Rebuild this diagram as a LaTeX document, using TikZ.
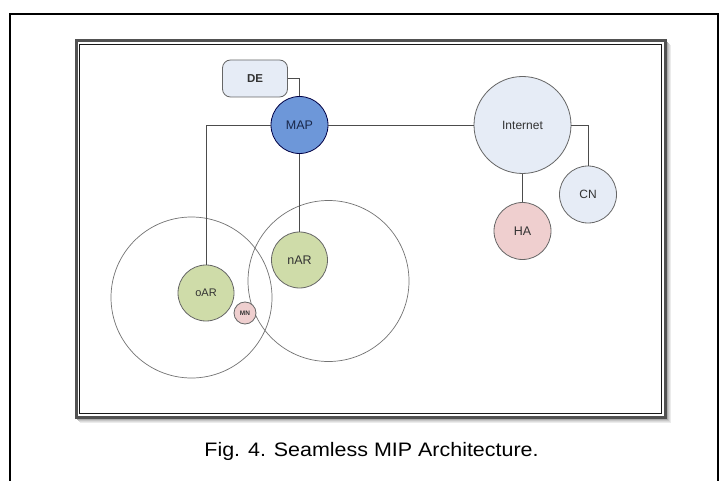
\documentclass[tikz,border=0pt]{standalone}
\usepackage{fontspec}
\setmainfont{Liberation Sans}
\begin{document}
\begin{tikzpicture}[x=1pt,y=-1pt,
  every node/.style={font=\fontsize{12}{14}\selectfont, text=black!80},
  circ/.style={circle, draw=black!60, line width=0.8pt, inner sep=0pt},
  cloud/.style={circ, fill=lightblue},
  router/.style={circ, fill=argreen, minimum size=56pt},
  pinkc/.style={circ, fill=pinkfill},
  cell/.style={circle, draw=black!55, line width=0.7pt, inner sep=0pt, minimum size=161pt},
  link/.style={draw=black!70, line width=0.9pt}]
\definecolor{lightblue}{HTML}{E6ECF6}
\definecolor{argreen}{HTML}{CFDCA9}
\definecolor{pinkfill}{HTML}{EFCFCF}
\definecolor{mapblue}{HTML}{6D97D9}
\useasboundingbox (0,0) rectangle (720,481);
\fill[white] (0,0) rectangle (720,481);
% outer frame (open at bottom)
\draw[black, line width=1.4pt] (10,481) -- (10,14) -- (718,14) -- (718,481);
% inner frame with shadow
\foreach \o/\c in {5/black!8,4/black!14,3/black!22,2/black!32}
  \draw[\c, line width=2pt] (76+\o,41+\o) rectangle (665+\o,417+\o);
\fill[white] (76,41) rectangle (665,417);
\draw[black!68, line width=3pt] (76,41) rectangle (665,417);
\draw[black!90, line width=0.9pt] (79.5,44.5) rectangle (661.5,413.5);
% cells
\node[cell] (cellL) at (191.5,297.5) {};
\node[cell] (cellR) at (328.5,281) {};
% nodes
\node[draw=black!60, line width=0.8pt, fill=lightblue, rounded corners=8pt,
      minimum width=65pt, minimum height=37pt, inner sep=0pt,
      font=\fontsize{11.5}{13}\selectfont\bfseries] (DE) at (255,78.5) {DE};
\node[circ, fill=mapblue, draw=black!55!blue!60!black, minimum size=57pt,
      font=\fontsize{12.5}{14}\selectfont,
      text={rgb,255:red,25;green,40;blue,75}] (MAP) at (299.5,125) {MAP};
\node[cloud, minimum size=97pt] (Internet) at (522.5,125) {Internet};
\node[cloud, minimum size=57pt] (CN) at (588,194.5) {CN};
\node[pinkc, minimum size=57pt, font=\fontsize{12.5}{14}\selectfont] (HA) at (522.5,231) {HA};
\node[router, font=\fontsize{12.5}{14}\selectfont] (nAR) at (299.5,260) {nAR};
\node[router, font=\fontsize{11}{13}\selectfont] (oAR) at (206,293) {oAR};
\node[pinkc, minimum size=22pt, font=\fontsize{6.5}{7}\selectfont\bfseries] (MN) at (245,313) {MN};
% connectors
\draw[link] (DE.east) -| (MAP.north);
\draw[link] (MAP.west) -| (oAR.north);
\draw[link] (MAP.east) -- (Internet.west);
\draw[link] (MAP.south) -- (nAR.north);
\draw[link] (Internet.east) -| (CN.north);
\draw[link] (Internet.south) -- (HA.north);
% caption
\node[font=\fontsize{19.5}{22}\selectfont, text=black] (cap) at (371.5,451) {\scalebox{1.1}[1]{Fig. 4. Seamless MIP Architecture.}};
\end{tikzpicture}
\end{document}
